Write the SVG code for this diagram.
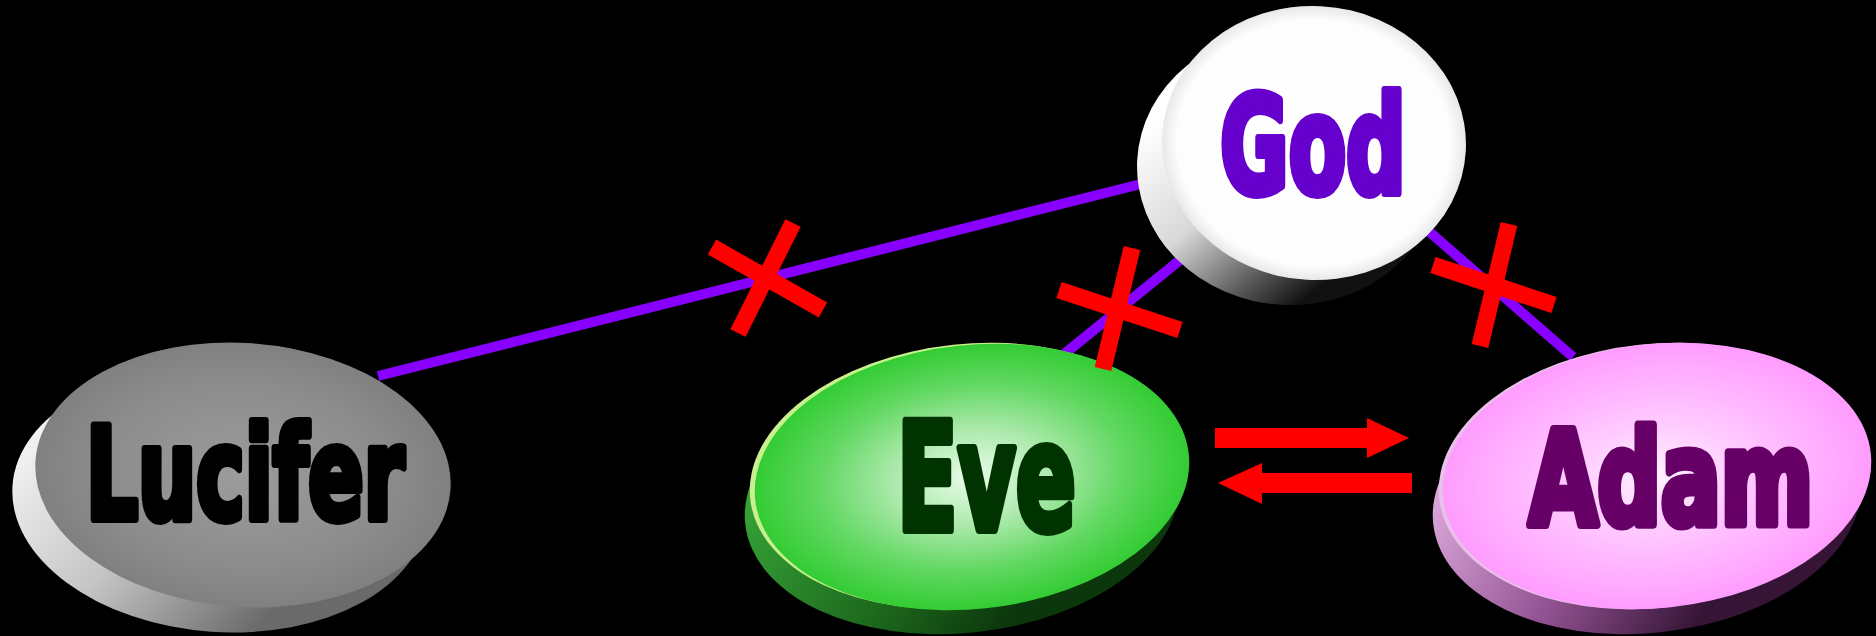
<svg xmlns="http://www.w3.org/2000/svg" width="1876" height="636" viewBox="0 0 1876 636">
<defs>
<style>
.link{stroke:#8800ff;stroke-width:10;fill:none}
.cross{stroke:#ff0000;stroke-width:17;stroke-linecap:butt}
.arrow{fill:#ff0000}
.label{font-family:"Liberation Sans Narrow","DejaVu Sans Condensed","Liberation Sans",sans-serif;font-weight:bold;stroke-linejoin:round;stroke-width:8}
</style>
<linearGradient id="sideGod" gradientUnits="userSpaceOnUse" x1="1140" y1="140" x2="1300" y2="310">
<stop offset="0" stop-color="#ffffff"/><stop offset="0.45" stop-color="#d8d8d8"/><stop offset="0.8" stop-color="#555"/><stop offset="1" stop-color="#111"/>
</linearGradient>
<radialGradient id="topGod" cx="0.5" cy="0.5" r="0.5">
<stop offset="0" stop-color="#ffffff"/><stop offset="0.9" stop-color="#fdfdfd"/><stop offset="1" stop-color="#e8e8e8"/>
</radialGradient>
<linearGradient id="sideLuc" gradientUnits="userSpaceOnUse" x1="20" y1="450" x2="260" y2="635">
<stop offset="0" stop-color="#f4f4f4"/><stop offset="0.5" stop-color="#c4c4c4"/><stop offset="1" stop-color="#6a6a6a"/>
</linearGradient>
<radialGradient id="topLuc" cx="0.5" cy="0.5" r="0.5">
<stop offset="0" stop-color="#9c9c9c"/><stop offset="0.7" stop-color="#8c8c8c"/><stop offset="1" stop-color="#808080"/>
</radialGradient>
<linearGradient id="sideEve" gradientUnits="userSpaceOnUse" x1="760" y1="470" x2="990" y2="635">
<stop offset="0" stop-color="#35a035"/><stop offset="0.6" stop-color="#1c661c"/><stop offset="1" stop-color="#0c360c"/>
</linearGradient>
<radialGradient id="topEve" cx="0.5" cy="0.5" r="0.5">
<stop offset="0" stop-color="#eafcea"/><stop offset="0.35" stop-color="#aeeaae"/><stop offset="0.7" stop-color="#62d862"/><stop offset="1" stop-color="#33cc33"/>
</radialGradient>
<linearGradient id="sideAdam" gradientUnits="userSpaceOnUse" x1="1445" y1="470" x2="1680" y2="635">
<stop offset="0" stop-color="#d8a4d8"/><stop offset="0.5" stop-color="#945494"/><stop offset="1" stop-color="#351435"/>
</linearGradient>
<radialGradient id="topAdam" cx="0.5" cy="0.5" r="0.5">
<stop offset="0" stop-color="#fff0ff"/><stop offset="0.4" stop-color="#ffcaff"/><stop offset="1" stop-color="#ff9cff"/>
</radialGradient>
</defs>
<rect width="1876" height="636" fill="#000"/>
<g id="connectors">
<line class="link" x1="378" y1="376" x2="1145" y2="183"/>
<line class="link" x1="1063" y1="355" x2="1180" y2="260"/>
<line class="link" x1="1425" y1="228" x2="1573" y2="357"/>
<polygon class="arrow" points="1215,428 1367,428 1367,418 1409,438 1367,458 1367,448 1215,448"/>
<polygon class="arrow" points="1412,473 1262,473 1262,463 1218,483 1262,504 1262,493 1412,493"/>
</g>
<g id="node-lucifer">
<ellipse cx="220" cy="500" rx="208" ry="132" transform="rotate(4 220 500)" fill="url(#sideLuc)"/>
<ellipse cx="243" cy="475" rx="208" ry="132" transform="rotate(4 243 475)" fill="url(#topLuc)"/>
<text class="label" x="86" y="519" font-size="128" textLength="318" lengthAdjust="spacingAndGlyphs" fill="#000" stroke="#000">Lucifer</text>
</g>
<g id="node-god">
<ellipse cx="1289" cy="168" rx="152" ry="137" transform="rotate(3 1289 168)" fill="url(#sideGod)"/>
<ellipse cx="1314" cy="143" rx="152" ry="137" transform="rotate(3 1314 143)" fill="url(#topGod)"/>
<text class="label" x="1220" y="193" font-size="136" textLength="186" lengthAdjust="spacingAndGlyphs" fill="#6600cc" stroke="#6600cc">God</text>
</g>
<g id="node-eve">
<ellipse cx="962" cy="501" rx="218" ry="132" transform="rotate(-6 962 501)" fill="url(#sideEve)"/>
<ellipse cx="967" cy="476" rx="218" ry="132" transform="rotate(-6 967 476)" fill="#c8f08c"/>
<ellipse cx="972" cy="477" rx="218" ry="132" transform="rotate(-6 972 477)" fill="url(#topEve)"/>
<text class="label" x="897" y="530" font-size="149" textLength="179" lengthAdjust="spacingAndGlyphs" fill="#003300" stroke="#003300">Eve</text>
</g>
<g id="node-adam">
<ellipse cx="1647" cy="501" rx="215" ry="132" transform="rotate(-6 1647 501)" fill="url(#sideAdam)"/>
<ellipse cx="1653" cy="476" rx="215" ry="132" transform="rotate(-6 1653 476)" fill="#e8c0e8"/>
<ellipse cx="1657" cy="476" rx="215" ry="132" transform="rotate(-6 1657 476)" fill="url(#topAdam)"/>
<text class="label" transform="translate(1529 524) scale(1 1.31)" x="0" y="0" font-size="100" textLength="284" lengthAdjust="spacingAndGlyphs" fill="#660066" stroke="#660066" style="stroke-width:7">Adam</text>
</g>
<g id="cross-marks">
<line class="cross" x1="712" y1="247" x2="823" y2="310"/>
<line class="cross" x1="793" y1="223" x2="738" y2="333"/>
<line class="cross" x1="1059" y1="290" x2="1180" y2="330"/>
<line class="cross" x1="1132" y1="248" x2="1103" y2="369"/>
<line class="cross" x1="1433" y1="265" x2="1554" y2="305"/>
<line class="cross" x1="1509" y1="224" x2="1480" y2="346"/>
</g>
</svg>
